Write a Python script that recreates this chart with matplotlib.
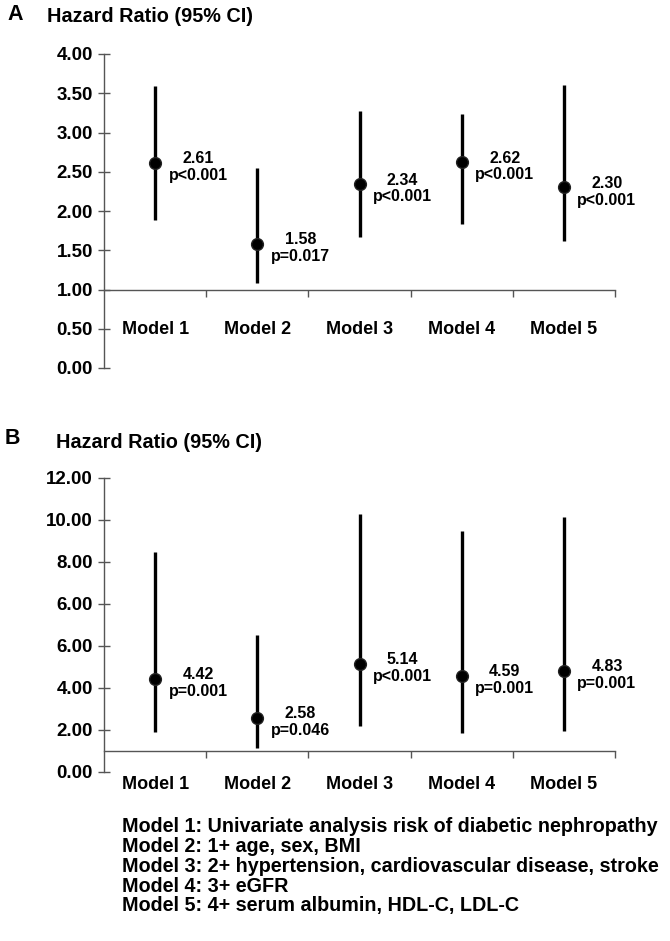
import matplotlib
matplotlib.use("Agg")
from matplotlib import pyplot as plt

MODELS = ["Model 1", "Model 2", "Model 3", "Model 4", "Model 5"]

# Panel A: hazard ratios with 95% CI
A_HR = [2.61, 1.58, 2.34, 2.62, 2.30]
A_LOWER = [1.89, 1.08, 1.67, 1.83, 1.62]
A_UPPER = [3.59, 2.55, 3.27, 3.23, 3.60]
A_P = ["p<0.001", "p=0.017", "p<0.001", "p<0.001", "p<0.001"]
A_TICKS = [0.0, 0.5, 1.0, 1.5, 2.0, 2.5, 3.0, 3.5, 4.0]
A_TICK_LABELS = ["0.00", "0.50", "1.00", "1.50", "2.00", "2.50", "3.00", "3.50", "4.00"]

# Panel B
B_HR = [4.42, 2.58, 5.14, 4.59, 4.83]
B_LOWER = [1.92, 1.14, 2.19, 1.84, 1.97]
B_UPPER = [10.46, 6.52, 12.29, 11.49, 12.13]
B_P = ["p=0.001", "p=0.046", "p<0.001", "p=0.001", "p=0.001"]
B_TICKS = [0, 2, 4, 6, 8, 10, 12, 14]
# the original axis repeats "6.00"
B_TICK_LABELS = ["0.00", "2.00", "4.00", "6.00", "6.00", "8.00", "10.00", "12.00"]

FOOTNOTES = [
    "Model 1: Univariate analysis risk of diabetic nephropathy",
    "Model 2: 1+ age, sex, BMI",
    "Model 3: 2+ hypertension, cardiovascular disease, stroke",
    "Model 4: 3+ eGFR",
    "Model 5: 4+ serum albumin, HDL-C, LDL-C",
]

AXIS_GRAY = "#555555"
W, H = 670, 941

plt.rcParams["font.family"] = ["Liberation Sans", "DejaVu Sans"]
plt.rcParams["font.weight"] = "bold"


def draw_panel(ax, hr, lower, upper, pvals, ticks, tick_labels, label_pad):
    x = list(range(len(MODELS)))
    ax.vlines(x, lower, upper, color="black", lw=2.4, zorder=2)
    ax.plot(x, hr, "o", color="black", ms=8.5, mec="#222222", zorder=3)
    for xi, h, p in zip(x, hr, pvals):
        ax.annotate(f"{h:.2f}\n{p}", (xi, h), xytext=(31, -3), textcoords="offset points",
                    ha="center", va="center", fontsize=11.5, fontweight="bold", linespacing=1.15)

    ax.set_xlim(-0.5, len(MODELS) - 0.5)
    ax.set_ylim(ticks[0], ticks[-1])
    ax.set_yticks(ticks, tick_labels)
    ax.tick_params(axis="y", direction="inout", length=9, width=1, color=AXIS_GRAY, pad=3.5, labelsize=13.5)

    for side in ("top", "right"):
        ax.spines[side].set_visible(False)
    ax.spines["bottom"].set_position(("data", 1.0))
    for side in ("left", "bottom"):
        ax.spines[side].set_color(AXIS_GRAY)
        ax.spines[side].set_linewidth(1.0)

    bounds = [i + 0.5 for i in x]
    ax.set_xticks(bounds, [""] * len(bounds))
    ax.set_xticks(x, MODELS, minor=True)
    ax.tick_params(axis="x", which="major", direction="out", length=5, width=1, color=AXIS_GRAY)
    ax.tick_params(axis="x", which="minor", length=0, pad=label_pad, labelsize=13)


fig = plt.figure(figsize=(W / 100, H / 100), dpi=100)

ax_a = fig.add_axes([104 / W, 1 - 368 / H, 511 / W, 314 / H])
draw_panel(ax_a, A_HR, A_LOWER, A_UPPER, A_P, A_TICKS, A_TICK_LABELS, label_pad=22.5)

ax_b = fig.add_axes([104 / W, 1 - 772 / H, 511 / W, 294 / H])
draw_panel(ax_b, B_HR, B_LOWER, B_UPPER, B_P, B_TICKS, B_TICK_LABELS, label_pad=18)

fig.text(7 / W, 1 - 15 / H, "A", fontsize=15.5, fontweight="bold", va="center")
fig.text(47 / W, 1 - 17 / H, "Hazard Ratio (95% CI)", fontsize=14.3, fontweight="bold", va="center")
fig.text(5 / W, 1 - 438 / H, "B", fontsize=15.5, fontweight="bold", va="center")
fig.text(56 / W, 1 - 442 / H, "Hazard Ratio (95% CI)", fontsize=14.3, fontweight="bold", va="center")

for i, line in enumerate(FOOTNOTES):
    fig.text(122 / W, 1 - (826 + i * 20) / H, line, fontsize=14.2, fontweight="bold", va="center")

fig.savefig("out.png", dpi=100)
